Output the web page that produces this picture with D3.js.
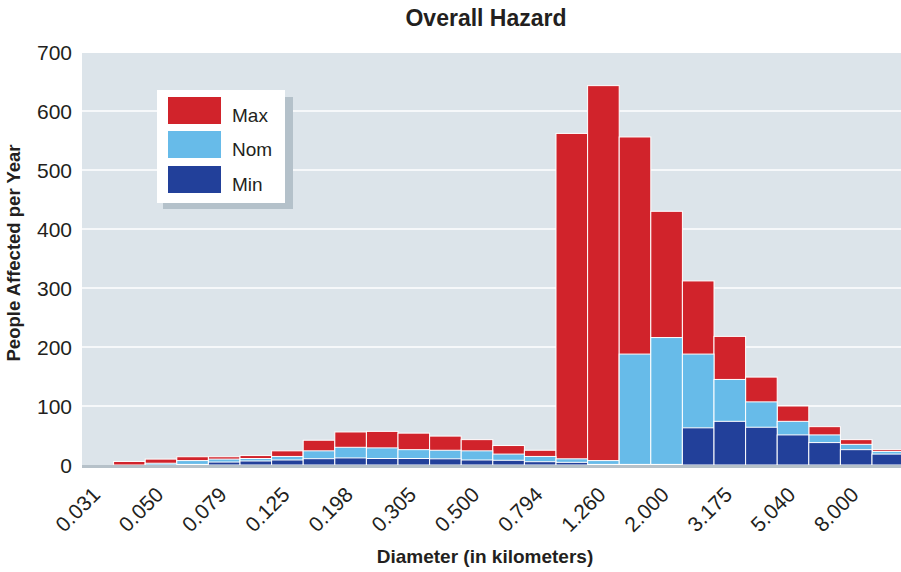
<!DOCTYPE html>
<html>
<head>
<meta charset="utf-8">
<script src="https://cdn.jsdelivr.net/npm/d3@7"></script>
<style>
  html, body { margin: 0; padding: 0; background: #ffffff; }
  svg { display: block; }
  text { font-family: "Liberation Sans", Arial, sans-serif; fill: #231f20; }
</style>
</head>
<body>
<svg id="chart" width="901" height="572"></svg>
<script>
// ---- data ----
const tickLabels = ["0.031","0.050","0.079","0.125","0.198","0.305","0.500","0.794","1.260","2.000","3.175","5.040","8.000"];
const maxValues = [0, 6, 10, 14, 14, 16, 24, 42, 56, 57, 54, 49, 43, 33, 25, 562, 643, 556, 430, 312, 218, 149, 100, 65, 43, 26];
const nomValues = [0, 0, 3, 7.5, 10, 11, 14.5, 24, 30, 29, 26, 25, 24, 18.5, 14.5, 10.5, 7.5, 188, 216, 188, 145, 107, 74, 51, 35, 23];
const minValues = [0, 0, 0, 1, 5, 6.8, 8.5, 10.7, 12, 11, 11, 10.5, 8.5, 8, 5.6, 4.5, 1, 1, 1, 63, 74, 64, 51, 38, 26, 18.5];
const seriesNames = ["Max", "Nom", "Min"];
const yTicks = [0, 100, 200, 300, 400, 500, 600, 700];

(function () {
// ---- layout ----
const colors = { Max: "#d1232b", Nom: "#67bbe9", Min: "#22409a" };
const svg = d3.select("#chart");
const pLeft = 82, pRight = 903.6, pTop = 52, pBottom = 465;
const nBins = maxValues.length;

const x = d3.scaleLinear().domain([0, nBins]).range([pLeft, pRight]);
const y = d3.scaleLinear().domain([0, 700]).range([pBottom, pTop]);

// plot background
svg.append("rect")
  .attr("x", pLeft).attr("y", y(700) + 1)
  .attr("width", 901 - pLeft).attr("height", pBottom - y(700) - 1)
  .attr("fill", "#dce4ea");

// gridlines
svg.append("g").selectAll("line")
  .data(yTicks.filter(d => d > 0 && d < 700))
  .join("line")
  .attr("x1", pLeft).attr("x2", 901)
  .attr("y1", d => y(d)).attr("y2", d => y(d))
  .attr("stroke", "#ffffff").attr("stroke-width", 1.6);

// bars (overlapping, drawn max -> nom -> min)
const seriesData = { Max: maxValues, Nom: nomValues, Min: minValues };
seriesNames.forEach(name => {
  svg.append("g").selectAll("rect")
    .data(seriesData[name].map((v, i) => ({ i, v })).filter(d => d.v > 0))
    .join("rect")
    .attr("x", d => x(d.i))
    .attr("width", d => x(d.i + 1) - x(d.i))
    .attr("y", d => y(d.v))
    .attr("height", d => y(0) - y(d.v))
    .attr("fill", colors[name])
    .attr("stroke", "#ffffff")
    .attr("stroke-width", 1);
});

// baseline
svg.append("rect")
  .attr("x", pLeft).attr("y", pBottom)
  .attr("width", 901 - pLeft).attr("height", 3)
  .attr("fill", "#b6c1c9");

// y axis
const yAxis = d3.axisLeft(y).tickValues(yTicks).tickSize(0).tickPadding(0).tickFormat(d3.format("d"));
const yg = svg.append("g").attr("transform", "translate(72,0)").call(yAxis);
yg.select(".domain").remove();
yg.selectAll("text")
  .attr("font-family", "Liberation Sans, Arial, sans-serif")
  .attr("font-size", 21)
  .attr("fill", "#231f20")
  .attr("dy", "0.38em");

// x axis
const xTickVals = tickLabels.map((_, k) => k * 2);
const xAxis = d3.axisBottom(x).tickValues(xTickVals).tickSize(0).tickFormat((d, k) => tickLabels[k]);
const xg = svg.append("g").attr("transform", `translate(0,${pBottom})`).call(xAxis);
xg.select(".domain").remove();
xg.selectAll("text")
  .attr("font-family", "Liberation Sans, Arial, sans-serif")
  .attr("font-size", 21)
  .attr("fill", "#231f20")
  .attr("text-anchor", "end")
  .attr("x", 0).attr("y", 0).attr("dy", 0)
  .attr("transform", "translate(19,31) rotate(-45)");

// title
svg.append("text")
  .attr("x", 486).attr("y", 26)
  .attr("text-anchor", "middle")
  .attr("font-size", 23).attr("font-weight", "bold")
  .text("Overall Hazard");

// axis titles
svg.append("text")
  .attr("x", 485).attr("y", 563)
  .attr("text-anchor", "middle")
  .attr("font-size", 19).attr("font-weight", "bold")
  .text("Diameter (in kilometers)");

svg.append("text")
  .attr("transform", "translate(20,253) rotate(-90)")
  .attr("text-anchor", "middle")
  .attr("font-size", 18.5).attr("font-weight", "bold")
  .text("People Affected per Year");

// legend
const lg = svg.append("g");
lg.append("rect").attr("x", 163).attr("y", 97).attr("width", 130).attr("height", 112).attr("fill", "#b4c1ca");
lg.append("rect").attr("x", 157).attr("y", 90).attr("width", 128).attr("height", 113).attr("fill", "#ffffff");
const swY = [97, 131, 166];
seriesNames.forEach((name, k) => {
  lg.append("rect").attr("x", 168).attr("y", swY[k]).attr("width", 53).attr("height", 27).attr("fill", colors[name]);
  lg.append("text").attr("x", 232).attr("y", swY[k] + 25).attr("font-size", 19).text(name);
});
})();
</script>
</body>
</html>
